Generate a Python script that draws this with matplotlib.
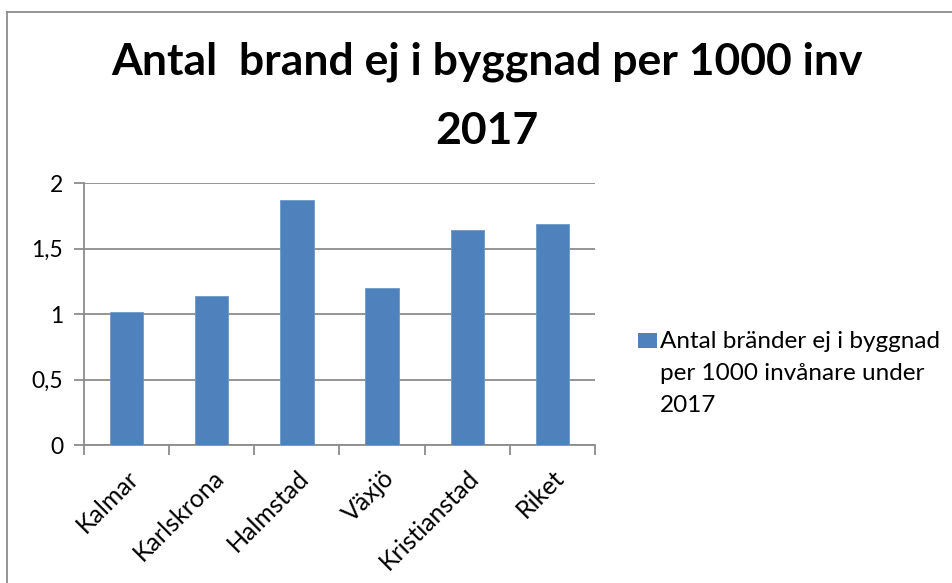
import matplotlib
matplotlib.use("Agg")
import matplotlib.pyplot as plt
from matplotlib.patches import Rectangle
from matplotlib.lines import Line2D
import numpy as np

categories = ["Kalmar", "Karlskrona", "Halmstad", "Växjö", "Kristianstad", "Riket"]
values = [1.02, 1.14, 1.87, 1.20, 1.64, 1.69]
yticks = [0, 0.5, 1, 1.5, 2]
ytick_labels = ["0", "0,5", "1", "1,5", "2"]
title = "Antal  brand ej i byggnad per 1000 inv\n2017"
series_label = "Antal bränder ej i byggnad\nper 1000 invånare under\n2017"

plt.rcParams['font.family'] = ['Lato', 'DejaVu Sans']

W, H = 953, 583
fig = plt.figure(figsize=(W / 100, H / 100), dpi=100)
ax = fig.add_axes([84 / W, 1 - 445 / H, (595 - 84) / W, (445 - 183.3) / H])

bar_color = "#4F81BD"
grid_color = "#8C8C8C"
x = np.arange(len(categories))
ax.bar(x, values, width=0.39, color=bar_color, edgecolor="#6E97CB", linewidth=0.6, zorder=3,
       label=series_label)

ax.set_xlim(-0.5, len(categories) - 0.5)
ax.set_ylim(0, 2)
ax.set_yticks(yticks)
ax.set_yticklabels(ytick_labels, fontsize=16.5)
ax.yaxis.grid(True, color=grid_color, linewidth=1.3, zorder=0)
ax.set_axisbelow(True)

ax.set_xticks(x)
ax.set_xticklabels(categories, rotation=45, ha="right", va="top", rotation_mode="anchor", fontsize=18)
ax.tick_params(axis="x", which="major", length=0, pad=15)
ax.set_xticks(np.arange(-0.5, len(categories) + 0.5, 1), minor=True)
ax.tick_params(axis="x", which="minor", length=7, width=1.3, color=grid_color, direction="out")
ax.tick_params(axis="y", length=7, width=1.3, color=grid_color, direction="out", pad=8)

for s in ["top", "right"]:
    ax.spines[s].set_visible(False)
for s in ["left", "bottom"]:
    ax.spines[s].set_color(grid_color)
    ax.spines[s].set_linewidth(1.3)

fig.text(487 / W, 1 - 144 / H, title, ha="center", va="baseline", fontsize=32,
         fontweight="bold", linespacing=1.89, multialignment="center")

# legend
fig.add_artist(Rectangle((638 / W, 1 - 348 / H), 19 / W, 15 / H, transform=fig.transFigure,
                         facecolor=bar_color, edgecolor="none"))
for i, line in enumerate(series_label.split("\n")):
    fig.text(660 / W, 1 - (348 + 32 * i) / H, line, ha="left", va="baseline", fontsize=17.5)

# chart frame
fig.add_artist(Line2D([7 / W, 7 / W], [0, 1 - 12 / H], transform=fig.transFigure,
                      color="#8C8C8C", linewidth=1.3))
fig.add_artist(Line2D([7 / W, 1], [1 - 12 / H, 1 - 12 / H], transform=fig.transFigure,
                      color="#8C8C8C", linewidth=1.3))

fig.savefig("out.png", dpi=100)
